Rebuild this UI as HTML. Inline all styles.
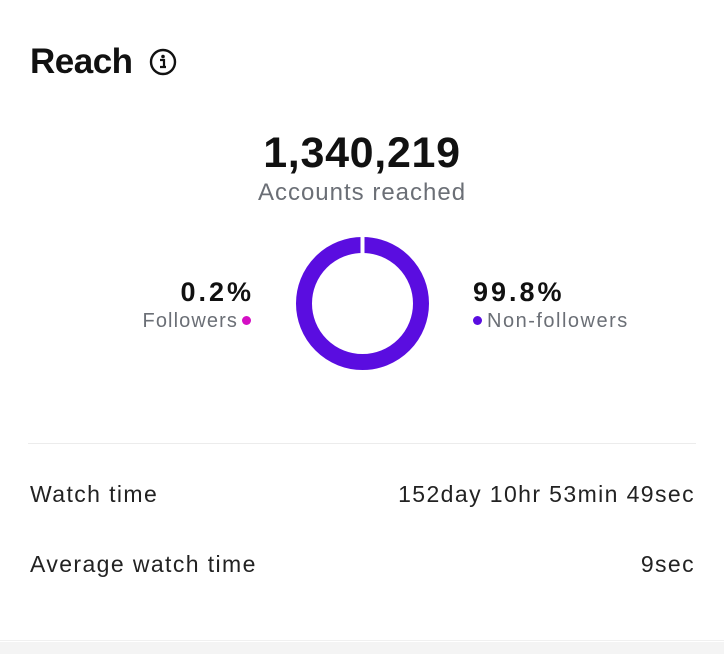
<!DOCTYPE html>
<html><head><meta charset="utf-8"><style>
body{margin:0;width:724px;height:662px;background:#fff;position:relative;overflow:hidden;font-family:"Liberation Sans",Arial,sans-serif;color:#111}
.a{position:absolute;white-space:nowrap;line-height:1}
</style></head><body>
<div class="a" style="left:30px;top:44px;font-size:35px;font-weight:bold;letter-spacing:-0.5px">Reach</div>
<svg class="a" style="left:148px;top:47px" width="30" height="30" viewBox="0 0 30 30">
<circle cx="15" cy="15" r="12" fill="none" stroke="#111" stroke-width="2.4"/>
<circle cx="15" cy="9.5" r="1.8" fill="#111"/>
<path d="M12 13h4v7h2M12 20h6" stroke="#111" stroke-width="2.2" fill="none"/>
</svg>
<div class="a" style="left:0;width:724px;text-align:center;top:132px;font-size:43px;font-weight:bold;letter-spacing:0.7px">1,340,219</div>
<div class="a" style="left:0;width:724px;text-align:center;top:181px;font-size:24px;color:#6b6f76;letter-spacing:1px">Accounts reached</div>
<svg class="a" style="left:296px;top:237px" width="133" height="133" viewBox="0 0 133 133">
<circle cx="66.5" cy="66.5" r="58.5" fill="none" stroke="#5a0de0" stroke-width="16"/>
<rect x="64.5" y="0" width="4" height="18" fill="#fff"/>
</svg>
<div class="a" style="right:470px;top:279px;font-size:27px;font-weight:bold;letter-spacing:3px">0.2%</div>
<div class="a" style="right:486px;top:311px;font-size:20px;color:#6b6f76;letter-spacing:1.1px">Followers</div>
<div class="a" style="left:242px;top:316px;width:9px;height:9px;border-radius:50%;background:#d40fc4"></div>
<div class="a" style="left:473px;top:279px;font-size:27px;font-weight:bold;letter-spacing:3px">99.8%</div>
<div class="a" style="left:473px;top:316px;width:9px;height:9px;border-radius:50%;background:#5a0de0"></div>
<div class="a" style="left:487px;top:311px;font-size:20px;color:#6b6f76;letter-spacing:1.5px">Non-followers</div>
<div class="a" style="left:28px;top:443px;width:668px;height:1px;background:#ececec"></div>
<div class="a" style="left:30px;top:483px;font-size:23px;color:#222;letter-spacing:1.4px">Watch time</div>
<div class="a" style="right:29px;top:483px;font-size:23px;color:#222;letter-spacing:1.4px">152day 10hr 53min 49sec</div>
<div class="a" style="left:30px;top:553px;font-size:23px;color:#222;letter-spacing:1.4px">Average watch time</div>
<div class="a" style="right:29px;top:553px;font-size:23px;color:#222;letter-spacing:1.4px">9sec</div>
<div class="a" style="left:0;top:640px;width:724px;height:1px;background:#f0f0f0"></div>
<div class="a" style="left:0;top:642px;width:724px;height:12px;background:#f4f4f4"></div>
</body></html>
